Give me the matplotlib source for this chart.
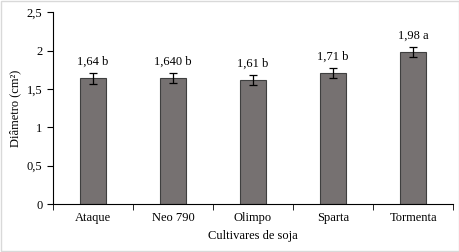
import numpy as np
import matplotlib.pyplot as plt

cultivares = ["Ataque", "Neo 790", "Olimpo", "Sparta", "Tormenta"]
diametro = [1.64, 1.64, 1.61, 1.71, 1.98]
erro = [0.07, 0.065, 0.065, 0.065, 0.07]
rotulos = ["1,64 b", "1,640 b", "1,61 b", "1,71 b", "1,98 a"]
yticks = [0, 0.5, 1, 1.5, 2, 2.5]
ytick_labels = ["0", "0,5", "1", "1,5", "2", "2,5"]

plt.rcParams['font.family'] = ['Liberation Serif', 'DejaVu Serif']

fig = plt.figure(figsize=(4.6, 2.52), dpi=100)
fig.patches.append(plt.Rectangle((0.002, 0.004), 0.996, 0.992, transform=fig.transFigure,
                                 fill=False, edgecolor='#d9d9d9', linewidth=1))
ax = fig.add_axes([0.115, 0.19, 0.87, 0.762])

x = np.arange(len(cultivares))
ax.bar(x, diametro, width=0.33, color='#767171', edgecolor='#3f3f3f', linewidth=0.8,
       yerr=erro, error_kw=dict(ecolor='black', elinewidth=0.9, capsize=3, capthick=0.9))

for xi, v, e, t in zip(x, diametro, erro, rotulos):
    ax.text(xi, v + e + 0.07, t, ha='center', va='bottom', fontsize=9)

ax.set_xlim(-0.5, len(cultivares) - 0.5)
ax.set_ylim(0, 2.5)
ax.set_yticks(yticks)
ax.set_yticklabels(ytick_labels, fontsize=9)
ax.set_xticks(x)
ax.set_xticklabels(cultivares, fontsize=9)
ax.tick_params(axis='x', length=0, pad=6)
ax.set_xticks(np.arange(-0.5, len(cultivares)), minor=True)
ax.tick_params(axis='x', which='minor', length=4, direction='out')
ax.tick_params(axis='y', length=4, direction='out')

for s in ['top', 'right']:
    ax.spines[s].set_visible(False)
ax.spines['left'].set_color('black')
ax.spines['bottom'].set_color('black')

ax.set_xlabel("Cultivares de soja", fontsize=9)
ax.set_ylabel("Diâmetro (cm²)", fontsize=9)

fig.savefig("out.png", dpi=100)
